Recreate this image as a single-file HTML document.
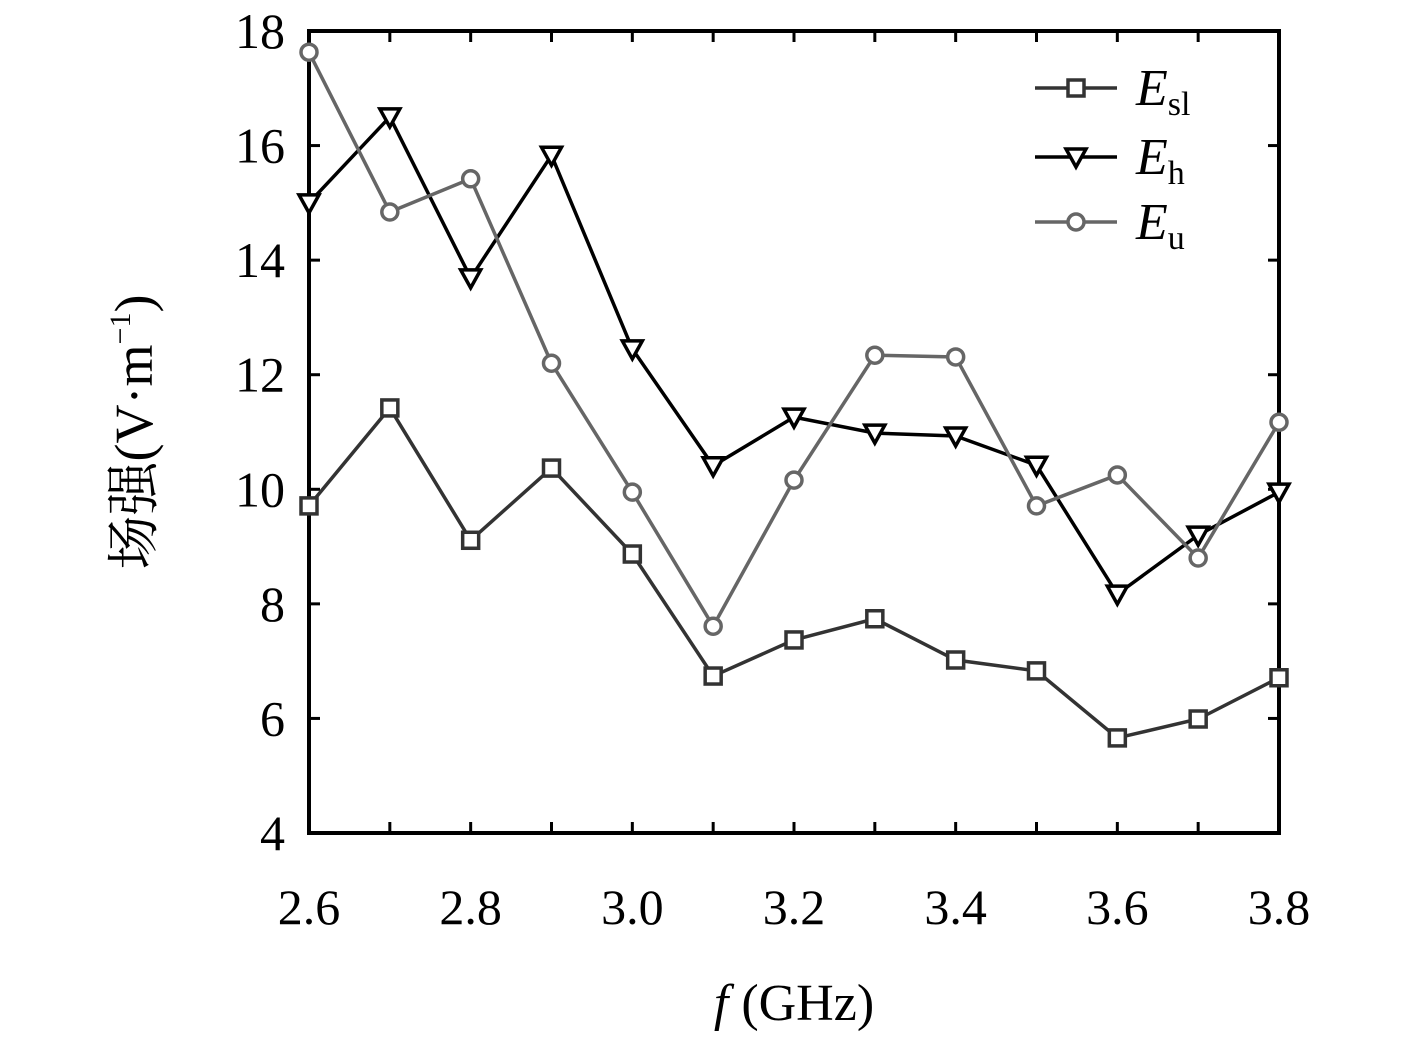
<!DOCTYPE html>
<html><head><meta charset="utf-8"><style>
html,body{margin:0;padding:0;background:#fff;}
svg text{font-family:"Liberation Serif","Noto Serif CJK SC",serif;}
</style></head><body>
<svg id="chart" width="1417" height="1039" viewBox="0 0 1417 1039" xmlns="http://www.w3.org/2000/svg">
<g id="plot"></g>
</svg>
<script>
const categories = [2.6,2.7,2.8,2.9,3.0,3.1,3.2,3.3,3.4,3.5,3.6,3.7,3.8];
const seriesEsl = [9.71,11.42,9.11,10.37,8.87,6.74,7.37,7.74,7.02,6.83,5.66,5.99,6.71];
const seriesEh = [15.0,16.5,13.69,15.83,12.45,10.41,11.26,10.98,10.93,10.42,8.17,9.2,9.95];
const seriesEu = [17.63,14.84,15.42,12.2,9.95,7.61,10.16,12.34,12.31,9.71,10.25,8.8,11.17];
const yTicks = [4,6,8,10,12,14,16,18];
const xTickLabels = ["2.6","2.8","3.0","3.2","3.4","3.6","3.8"];
const xTickValues = [2.6,2.8,3.0,3.2,3.4,3.6,3.8];

const L=309,R=1279,T=31,B=833;
const xs=v=>L+(v-2.6)/1.2*(R-L);
const ys=v=>B-(v-4)/14*(B-T);
const NS="http://www.w3.org/2000/svg";
const g=document.getElementById('plot');
function mk(tag,attrs,parent){const e=document.createElementNS(NS,tag);for(const k in attrs)e.setAttribute(k,attrs[k]);(parent||g).appendChild(e);return e;}

for(const v of yTicks){
  const t1=mk('line',{x1:L,x2:L+11,y1:ys(v),y2:ys(v),stroke:'#000','stroke-width':3});
  
  
  const t2=mk('line',{x1:R-11,x2:R,y1:ys(v),y2:ys(v),stroke:'#000','stroke-width':3});
  
  
  const tl=mk('text',{x:L-24,y:ys(v)+17,'text-anchor':'end','font-size':50,fill:'#000'});
  tl.textContent=v;
  
  
}
for(const v of categories){
  const t1=mk('line',{x1:xs(v),x2:xs(v),y1:B,y2:B-11,stroke:'#000','stroke-width':3});
  
  
  const t2=mk('line',{x1:xs(v),x2:xs(v),y1:T,y2:T+11,stroke:'#000','stroke-width':3});
  
  
}
xTickValues.forEach((v,i)=>{
  const tl=mk('text',{x:xs(v),y:924,'text-anchor':'middle','font-size':50,fill:'#000'});
  tl.textContent=xTickLabels[i];
  
  
});
const frame=mk('rect',{x:L,y:T,width:R-L,height:B-T,fill:'none',stroke:'#000','stroke-width':4});



function marker(type,x,y,color,parent){
  let e;
  if(type==='sq') e=mk('rect',{x:x-8,y:y-8,width:16,height:16,fill:'#fff',stroke:color,'stroke-width':3.5},parent);
  else if(type==='tri') e=mk('polygon',{points:`${x-10},${y-8} ${x+10},${y-8} ${x},${y+10}`,fill:'#fff',stroke:color,'stroke-width':3.5},parent);
  else e=mk('circle',{cx:x,cy:y,r:8,fill:'#fff',stroke:color,'stroke-width':3.5},parent);
  return e;
}
const series=[
 {name:'series-esl',data:seriesEsl,color:'#333',m:'sq'},
 {name:'series-eh',data:seriesEh,color:'#000',m:'tri'},
 {name:'series-eu',data:seriesEu,color:'#666',m:'circ'}
];
for(const s of series){
  const sg=mk('g',{});
  
  
  const pl=mk('polyline',{points:s.data.map((v,i)=>xs(categories[i])+','+ys(v)).join(' '),fill:'none',stroke:s.color,'stroke-width':3.5},sg);
  
  
  s.data.forEach((v,i)=>{
    const m=marker(s.m,xs(categories[i]),ys(v),s.color,sg);
    
    
  });
}
const legY=[88,157,222],subs=['sl','h','u'];
const lg=mk('g',{});


series.forEach((s,i)=>{
  const ln=mk('line',{x1:1035,x2:1117,y1:legY[i],y2:legY[i],stroke:s.color,'stroke-width':3.5},lg);
  
  
  const m=marker(s.m,1076,legY[i],s.color,lg);
  
  
  const t=mk('text',{x:1136,y:legY[i]+17,'font-size':52,fill:'#000'},lg);
  t.innerHTML='<tspan font-style="italic">E</tspan><tspan font-size="34" dy="10">'+subs[i]+'</tspan>';
  
  
});
</script>
<svg style="position:absolute;left:0;top:0" width="1417" height="1039">
<text x="794" y="1020" text-anchor="middle" font-size="52" font-family="Liberation Serif, serif"><tspan font-style="italic">f</tspan> (GHz)</text>
<text transform="translate(152,432) rotate(-90)" text-anchor="middle" font-size="54" font-family="Liberation Serif, Noto Serif CJK SC, serif">场强(V·m<tspan font-size="30" dy="-22">−1</tspan><tspan dy="22">)</tspan></text>
</svg>
</body></html>
